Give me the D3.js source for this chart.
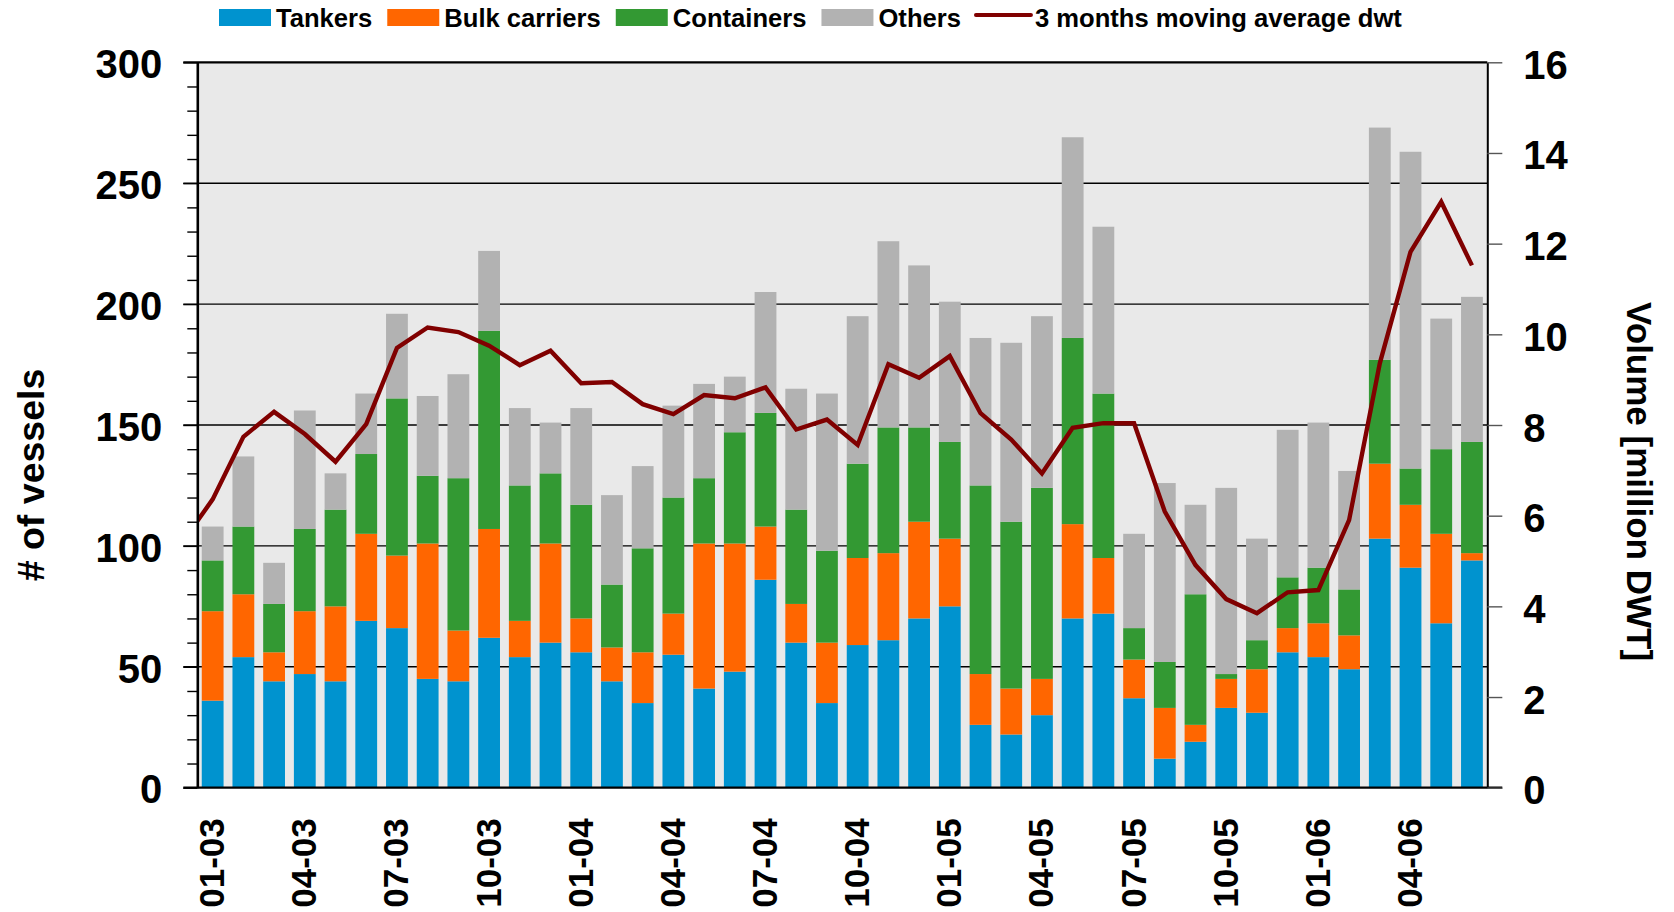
<!DOCTYPE html>
<html>
<head>
<meta charset="utf-8">
<script src="https://cdn.jsdelivr.net/npm/d3@7"></script>
<style>
  body { margin: 0; background: #fff; }
  text { font-family: 'Liberation Sans', Arial, sans-serif; font-weight: bold; fill: #000; }
</style>
</head>
<body>
<svg id="chart"></svg>
<script>
// data
const months = [
  '01-03','02-03','03-03','04-03','05-03','06-03','07-03','08-03','09-03','10-03','11-03','12-03',
  '01-04','02-04','03-04','04-04','05-04','06-04','07-04','08-04','09-04','10-04','11-04','12-04',
  '01-05','02-05','03-05','04-05','05-05','06-05','07-05','08-05','09-05','10-05','11-05','12-05',
  '01-06','02-06','03-06','04-06','05-06','06-06'
];
const tickMonths = ['01-03','04-03','07-03','10-03','01-04','04-04','07-04','10-04','01-05','04-05','07-05','10-05','01-06','04-06'];

const tankers    = [36,54,44,47,44,69,66,45,44,62,54,60,56,44,35,55,41,48,86,60,35,59,61,70,75,26,22,30,70,72,37,12,19,33,31,56,54,49,103,91,68,94];
const bulk       = [37,26,12,26,31,36,30,56,21,45,15,41,14,14,21,17,60,53,22,16,25,36,36,40,28,21,19,15,39,23,16,21,7,12,18,10,14,14,31,26,37,3];
const containers = [21,28,20,34,40,33,65,28,63,82,56,29,47,26,43,48,27,46,47,39,38,39,52,39,40,78,69,79,77,68,13,19,54,2,12,21,23,19,43,15,35,46];
const others     = [14,29,17,49,15,25,35,33,43,33,32,21,40,37,34,38,39,23,50,50,65,61,77,67,58,61,74,71,83,69,39,74,37,77,42,61,60,49,96,131,54,60];

// 3 months moving average dwt (million), first value is 12-02 (clipped at the plot edge)
const dwtMonths = ['12-02'].concat(months);
const dwt = [5.4,6.36,7.74,8.29,7.8,7.19,8.02,9.70,10.15,10.05,9.75,9.32,9.64,8.92,8.95,8.46,8.24,8.66,8.59,8.83,7.90,8.12,
             7.56,9.34,9.04,9.52,8.26,7.68,6.93,7.94,8.04,8.04,6.09,4.91,4.16,3.85,4.31,4.36,5.90,9.36,11.82,12.92,11.52];

const vesselTicks = [0,50,100,150,200,250,300];
const vesselMinor = [10,20,30,40,60,70,80,90,110,120,130,140,160,170,180,190,210,220,230,240,260,270,280,290];
const volumeTicks = [0,2,4,6,8,10,12,14,16];

const seriesKeys = ['tankers','bulk','containers','others'];
const seriesNames = ['Tankers','Bulk carriers','Containers','Others'];
const seriesColors = ['#0093cf','#ff6600','#339933','#b2b2b2'];
const lineColor = '#800000';

const width = 1674, height = 912;
const plot = {left: 197.3, right: 1487.3, top: 62.3, bottom: 787.7};

const svg = d3.select('#chart').attr('width', width).attr('height', height);
svg.append('rect').attr('width', width).attr('height', height).attr('fill', '#fff');

const x = d3.scaleBand().domain(months).range([plot.left, plot.right])
  .paddingInner(0.29).paddingOuter(0.145);
const y = d3.scaleLinear().domain([0, 300]).range([plot.bottom, plot.top]);
const y2 = d3.scaleLinear().domain([0, 16]).range([plot.bottom, plot.top]);
const half = x.bandwidth() / 2;
const xLine = d3.scaleLinear().domain([1, months.length])
  .range([x(months[0]) + half, x(months[months.length - 1]) + half]);

// plot background
svg.append('rect')
  .attr('x', plot.left).attr('y', plot.top)
  .attr('width', plot.right - plot.left).attr('height', plot.bottom - plot.top)
  .attr('fill', '#e9e9e9');

// gridlines (behind the bars)
svg.append('g').selectAll('line')
  .data(vesselTicks.filter(v => v > 0 && v < 300))
  .enter().append('line')
  .attr('x1', plot.left - 14).attr('x2', plot.right)
  .attr('y1', d => y(d)).attr('y2', d => y(d))
  .attr('stroke', '#000').attr('stroke-width', 1.4);

// stacked bars
const table = months.map((m, i) => ({month: m, tankers: tankers[i], bulk: bulk[i], containers: containers[i], others: others[i]}));
const stacked = d3.stack().keys(seriesKeys)(table);

svg.append('g').selectAll('g')
  .data(stacked)
  .enter().append('g')
  .attr('fill', (d, i) => seriesColors[i])
  .selectAll('rect')
  .data(d => d)
  .enter().append('rect')
  .attr('x', d => x(d.data.month))
  .attr('width', x.bandwidth())
  .attr('y', d => y(d[1]))
  .attr('height', d => y(d[0]) - y(d[1]));

// moving average line
svg.append('clipPath').attr('id', 'plotClip')
  .append('rect')
  .attr('x', plot.left).attr('y', plot.top)
  .attr('width', plot.right - plot.left).attr('height', plot.bottom - plot.top);

const line = d3.line()
  .x((d, i) => xLine(i))
  .y(d => y2(d));

svg.append('path')
  .datum(dwt)
  .attr('clip-path', 'url(#plotClip)')
  .attr('d', line)
  .attr('fill', 'none')
  .attr('stroke', lineColor)
  .attr('stroke-width', 4.4)
  .attr('stroke-linejoin', 'miter');

// top border and baseline
svg.append('line')
  .attr('x1', plot.left - 14).attr('x2', plot.right)
  .attr('y1', y(300)).attr('y2', y(300))
  .attr('stroke', '#000').attr('stroke-width', 2.2);
svg.append('line')
  .attr('x1', plot.left - 14).attr('x2', plot.right + 15)
  .attr('y1', y(0)).attr('y2', y(0))
  .attr('stroke', '#000').attr('stroke-width', 2.2);

// left axis
const leftAxis = svg.append('g')
  .attr('transform', `translate(${plot.left},0)`)
  .call(d3.axisLeft(y).tickValues(vesselTicks).tickSize(14).tickSizeOuter(0).tickPadding(21));
leftAxis.select('.domain').attr('stroke', '#000').attr('stroke-width', 2.6);
leftAxis.selectAll('.tick line').attr('stroke', '#000').attr('stroke-width', 1.4);
leftAxis.selectAll('.tick text').attr('font-size', 40).attr('dy', '0.38em');

const leftMinor = svg.append('g')
  .attr('transform', `translate(${plot.left},0)`)
  .call(d3.axisLeft(y).tickValues(vesselMinor).tickSize(10).tickFormat(''));
leftMinor.select('.domain').remove();
leftMinor.selectAll('.tick line').attr('stroke', '#000').attr('stroke-width', 1.4);

// right axis
const rightAxis = svg.append('g')
  .attr('transform', `translate(${plot.right},0)`)
  .call(d3.axisRight(y2).tickValues(volumeTicks).tickSize(15).tickSizeOuter(0).tickPadding(21));
rightAxis.select('.domain').attr('stroke', '#000').attr('stroke-width', 2);
rightAxis.selectAll('.tick line').attr('stroke', '#555').attr('stroke-width', 1.4);
rightAxis.selectAll('.tick text').attr('font-size', 40).attr('dy', '0.4em');

// bottom axis labels
const bottomAxis = svg.append('g')
  .attr('transform', `translate(0,${plot.bottom})`)
  .call(d3.axisBottom(x).tickValues(tickMonths).tickSize(0));
bottomAxis.select('.domain').remove();
bottomAxis.selectAll('.tick text')
  .attr('font-size', 35)
  .attr('transform', 'rotate(-90)')
  .attr('text-anchor', 'end')
  .attr('x', -30.5)
  .attr('y', 11.5)
  .attr('dy', 0);

// axis titles
svg.append('text')
  .attr('transform', 'translate(43.5,475) rotate(-90)')
  .attr('text-anchor', 'middle')
  .attr('font-size', 37.5)
  .text('# of vessels');

svg.append('text')
  .attr('transform', 'translate(1627,302) rotate(90)')
  .attr('text-anchor', 'start')
  .attr('font-size', 35)
  .text('Volume [million DWT]');

// legend
const legend = svg.append('g');
let lx = 219;
seriesNames.forEach((name, i) => {
  legend.append('rect')
    .attr('x', lx).attr('y', 9)
    .attr('width', 52).attr('height', 17)
    .attr('fill', seriesColors[i]);
  const t = legend.append('text')
    .attr('x', lx + 57).attr('y', 27.3)
    .attr('font-size', 25.6)
    .text(name);
  lx += 57 + t.node().getComputedTextLength() + 15;
});
legend.append('line')
  .attr('x1', lx).attr('x2', lx + 55)
  .attr('y1', 15).attr('y2', 15)
  .attr('stroke', lineColor).attr('stroke-width', 4)
  .attr('stroke-linecap', 'round');
legend.append('text')
  .attr('x', lx + 59).attr('y', 27.3)
  .attr('font-size', 25.6)
  .text('3 months moving average dwt');
</script>
</body>
</html>
